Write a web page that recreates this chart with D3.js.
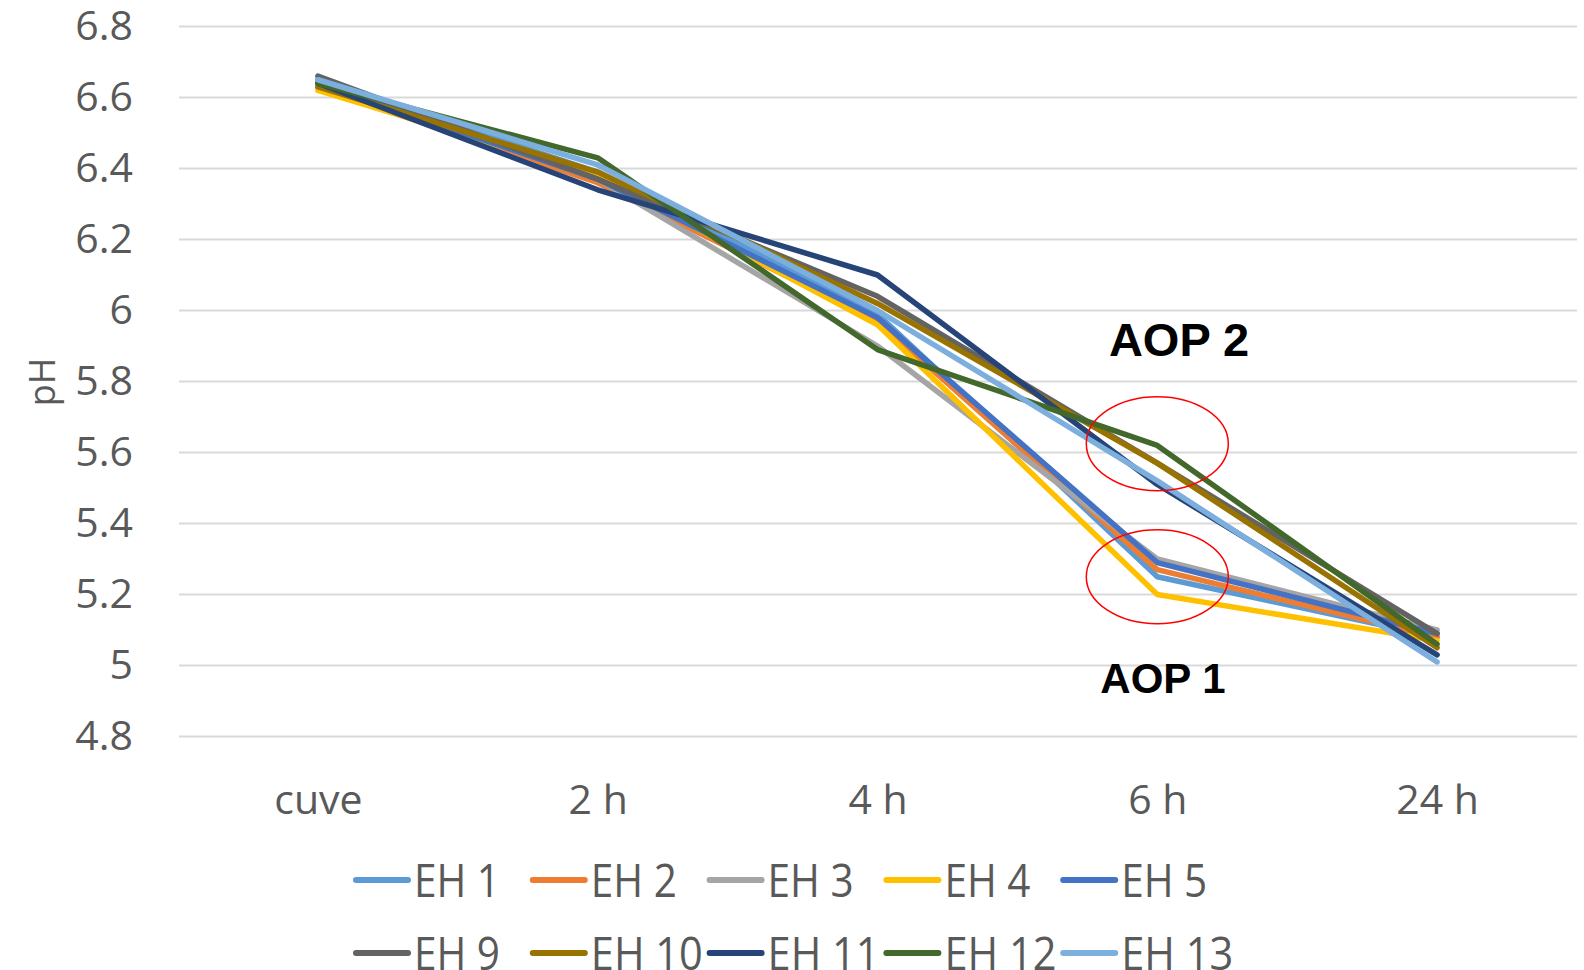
<!DOCTYPE html>
<html>
<head>
<meta charset="utf-8">
<script src="https://cdn.jsdelivr.net/npm/d3@7"></script>
<style>
  body { margin: 0; background: #fff; }
  text { fill: #595959; }
</style>
</head>
<body>
<div id="chart"></div>
<script>
var categories = ["cuve", "2 h", "4 h", "6 h", "24 h"];
var seriesNames = ["EH 1", "EH 2", "EH 3", "EH 4", "EH 5", "EH 9", "EH 10", "EH 11", "EH 12", "EH 13"];
var seriesColors = ["#5B9BD5", "#ED7D31", "#A5A5A5", "#FFC000", "#4472C4", "#636363", "#997300", "#264478", "#43682B", "#7CAFDD"];
var eh1 = [6.65, 6.39, 5.99, 5.25, 5.08];
var eh2 = [6.63, 6.36, 5.97, 5.27, 5.08];
var eh3 = [6.65, 6.37, 5.90, 5.30, 5.10];
var eh4 = [6.62, 6.38, 5.96, 5.20, 5.07];
var eh5 = [6.64, 6.37, 5.98, 5.29, 5.09];
var eh9 = [6.66, 6.37, 6.04, 5.57, 5.09];
var eh10 = [6.63, 6.39, 6.02, 5.57, 5.05];
var eh11 = [6.64, 6.34, 6.10, 5.51, 5.03];
var eh12 = [6.64, 6.43, 5.89, 5.62, 5.06];
var eh13 = [6.65, 6.41, 6.00, 5.52, 5.01];
var seriesValues = [eh1, eh2, eh3, eh4, eh5, eh9, eh10, eh11, eh12, eh13];
var yTicks = [4.8, 5, 5.2, 5.4, 5.6, 5.8, 6, 6.2, 6.4, 6.6, 6.8];
var yTickLabels = ["4.8", "5", "5.2", "5.4", "5.6", "5.8", "6", "6.2", "6.4", "6.6", "6.8"];
var annotations = [
  {label: "AOP 2", center: 5.625, textX: 1179, textY: 356, size: 47},
  {label: "AOP 1", center: 5.25, textX: 1163, textY: 693, size: 42}
];

var width = 1584, height = 970;
var svg = d3.select("#chart").append("svg")
  .attr("width", width)
  .attr("height", height);

var x = d3.scalePoint()
  .domain(categories)
  .range([178, 1577])
  .padding(0.5);
var y = d3.scaleLinear()
  .domain([4.8, 6.8])
  .range([736.5, 26.5]);

// gridlines
svg.append("g").selectAll("line")
  .data(yTicks)
  .enter().append("line")
  .attr("x1", 179).attr("x2", 1577)
  .attr("y1", function (d) { return y(d); })
  .attr("y2", function (d) { return y(d); })
  .attr("stroke", "#D9D9D9")
  .attr("stroke-width", 2);

// y tick labels
var yAxis = d3.axisLeft(y)
  .tickValues(yTicks)
  .tickFormat(function (d, i) { return yTickLabels[i]; })
  .tickSize(0)
  .tickPadding(0);
var gy = svg.append("g")
  .attr("transform", "translate(133,0)")
  .call(yAxis);
gy.select(".domain").remove();
gy.selectAll("text")
  .style("font-size", "41px")
  .style("font-family", "Open Sans")
  .style("fill", "#595959");

// x labels
var xAxis = d3.axisBottom(x).tickSize(0).tickPadding(0);
var gx = svg.append("g")
  .attr("transform", "translate(0,785)")
  .call(xAxis);
gx.select(".domain").remove();
gx.selectAll("text")
  .style("font-size", "41px")
  .style("font-family", "Open Sans")
  .style("fill", "#595959");

// axis title
svg.append("text")
  .attr("transform", "translate(55,382) rotate(-90)")
  .attr("text-anchor", "middle")
  .style("font-family", "Open Sans")
  .style("font-size", "36px")
  .text("pH");

// lines
var line = d3.line()
  .x(function (d, i) { return x(categories[i]); })
  .y(function (d) { return y(d); });
svg.append("g").selectAll("path")
  .data(seriesValues)
  .enter().append("path")
  .attr("d", line)
  .attr("fill", "none")
  .attr("stroke", function (d, i) { return seriesColors[i]; })
  .attr("stroke-width", 5.5)
  .attr("stroke-linejoin", "round")
  .attr("stroke-linecap", "round");

// annotations
annotations.forEach(function (a) {
  svg.append("ellipse")
    .attr("cx", x("6 h"))
    .attr("cy", y(a.center))
    .attr("rx", 71)
    .attr("ry", 47)
    .attr("fill", "none")
    .attr("stroke", "#FF0000")
    .attr("stroke-width", 1.5);
  svg.append("text")
    .attr("x", a.textX)
    .attr("y", a.textY)
    .attr("text-anchor", "middle")
    .style("font-family", "'Liberation Sans', Arial, sans-serif")
    .style("font-weight", "bold")
    .style("font-size", a.size + "px")
    .style("fill", "#000")
    .text(a.label);
});

// legend
var legend = svg.append("g");
seriesNames.forEach(function (name, i) {
  var col = i % 5, row = Math.floor(i / 5);
  var lx = 356 + col * 176.8;
  var ly = 880 + row * 73;
  legend.append("line")
    .attr("x1", lx).attr("x2", lx + 52)
    .attr("y1", ly).attr("y2", ly)
    .attr("stroke", seriesColors[i])
    .attr("stroke-width", 6)
    .attr("stroke-linecap", "round");
  legend.append("text")
    .attr("x", lx + 58)
    .attr("y", ly + 17)
    .attr("textLength", name.length === 4 ? 86 : 112)
    .attr("lengthAdjust", "spacingAndGlyphs")
    .style("font-family", "Open Sans")
    .style("font-size", "46px")
    .text(name);
});
</script>
</body>
</html>
